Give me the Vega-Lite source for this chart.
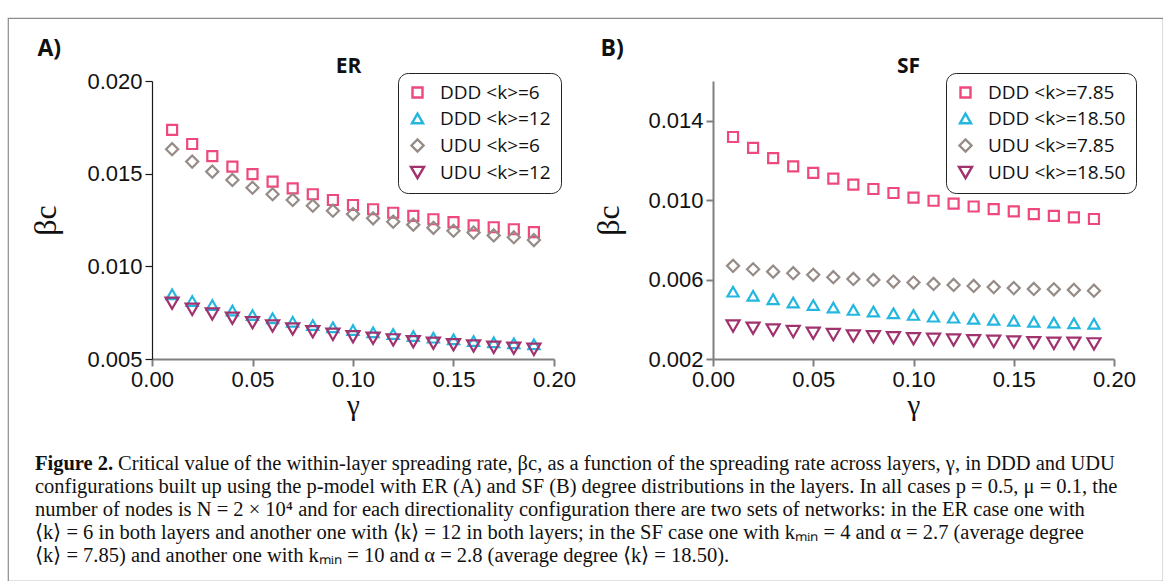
{
  "$schema": "https://vega.github.io/schema/vega-lite/v6.json",
  "width": 1155,
  "height": 563,
  "autosize": {"type": "none"},
  "padding": {"left": 8, "top": 18, "right": 0, "bottom": 0},
  "background": "white",
  "config": {
    "view": {"stroke": "#8c8c8c", "strokeWidth": 1.2},
    "axis": {"grid": false, "labelFont": "Liberation Sans", "labelFontSize": 22, "labelColor": "#111", "titleFont": "Liberation Serif", "titleFontSize": 30, "titleFontWeight": "normal", "titleColor": "#111", "tickSize": 7, "domainColor": "#808080", "tickColor": "#808080", "domainWidth": 2, "tickWidth": 2, "labelPadding": 3, "labelFlush": false, "labelOverlap": false},
    "legend": {"title": null, "orient": "none", "strokeColor": "#222", "cornerRadius": 10, "padding": 10, "fillColor": "white", "labelFont": "Open Sans", "labelFontSize": 19, "labelColor": "#111", "symbolStrokeWidth": 2.4, "symbolSize": 120, "rowPadding": 5, "labelOffset": 13}
  },
  "datasets": {
    "er": [
      {"g":0.01,"b":0.01736,"s":"DDD <k>=6"},{"g":0.02,"b":0.0166,"s":"DDD <k>=6"},{"g":0.03,"b":0.01595,"s":"DDD <k>=6"},{"g":0.04,"b":0.01538,"s":"DDD <k>=6"},{"g":0.05,"b":0.01497,"s":"DDD <k>=6"},{"g":0.06,"b":0.01457,"s":"DDD <k>=6"},{"g":0.07,"b":0.01421,"s":"DDD <k>=6"},{"g":0.08,"b":0.01389,"s":"DDD <k>=6"},{"g":0.09,"b":0.01358,"s":"DDD <k>=6"},{"g":0.10,"b":0.01331,"s":"DDD <k>=6"},{"g":0.11,"b":0.01308,"s":"DDD <k>=6"},{"g":0.12,"b":0.01289,"s":"DDD <k>=6"},{"g":0.13,"b":0.01272,"s":"DDD <k>=6"},{"g":0.14,"b":0.01254,"s":"DDD <k>=6"},{"g":0.15,"b":0.01238,"s":"DDD <k>=6"},{"g":0.16,"b":0.01221,"s":"DDD <k>=6"},{"g":0.17,"b":0.01211,"s":"DDD <k>=6"},{"g":0.18,"b":0.01200,"s":"DDD <k>=6"},{"g":0.19,"b":0.01185,"s":"DDD <k>=6"},
      {"g":0.01,"b":0.00849,"s":"DDD <k>=12"},{"g":0.02,"b":0.00813,"s":"DDD <k>=12"},{"g":0.03,"b":0.00791,"s":"DDD <k>=12"},{"g":0.04,"b":0.00761,"s":"DDD <k>=12"},{"g":0.05,"b":0.00737,"s":"DDD <k>=12"},{"g":0.06,"b":0.00720,"s":"DDD <k>=12"},{"g":0.07,"b":0.00701,"s":"DDD <k>=12"},{"g":0.08,"b":0.00683,"s":"DDD <k>=12"},{"g":0.09,"b":0.00671,"s":"DDD <k>=12"},{"g":0.10,"b":0.00656,"s":"DDD <k>=12"},{"g":0.11,"b":0.00644,"s":"DDD <k>=12"},{"g":0.12,"b":0.00635,"s":"DDD <k>=12"},{"g":0.13,"b":0.00624,"s":"DDD <k>=12"},{"g":0.14,"b":0.00615,"s":"DDD <k>=12"},{"g":0.15,"b":0.00606,"s":"DDD <k>=12"},{"g":0.16,"b":0.00597,"s":"DDD <k>=12"},{"g":0.17,"b":0.00590,"s":"DDD <k>=12"},{"g":0.18,"b":0.00585,"s":"DDD <k>=12"},{"g":0.19,"b":0.00579,"s":"DDD <k>=12"},
      {"g":0.01,"b":0.01632,"s":"UDU <k>=6"},{"g":0.02,"b":0.01565,"s":"UDU <k>=6"},{"g":0.03,"b":0.01511,"s":"UDU <k>=6"},{"g":0.04,"b":0.01466,"s":"UDU <k>=6"},{"g":0.05,"b":0.01424,"s":"UDU <k>=6"},{"g":0.06,"b":0.01389,"s":"UDU <k>=6"},{"g":0.07,"b":0.01358,"s":"UDU <k>=6"},{"g":0.08,"b":0.01327,"s":"UDU <k>=6"},{"g":0.09,"b":0.01300,"s":"UDU <k>=6"},{"g":0.10,"b":0.01282,"s":"UDU <k>=6"},{"g":0.11,"b":0.01259,"s":"UDU <k>=6"},{"g":0.12,"b":0.01241,"s":"UDU <k>=6"},{"g":0.13,"b":0.01225,"s":"UDU <k>=6"},{"g":0.14,"b":0.01208,"s":"UDU <k>=6"},{"g":0.15,"b":0.01192,"s":"UDU <k>=6"},{"g":0.16,"b":0.01182,"s":"UDU <k>=6"},{"g":0.17,"b":0.01167,"s":"UDU <k>=6"},{"g":0.18,"b":0.01157,"s":"UDU <k>=6"},{"g":0.19,"b":0.01142,"s":"UDU <k>=6"},
      {"g":0.01,"b":0.00801,"s":"UDU <k>=12"},{"g":0.02,"b":0.00768,"s":"UDU <k>=12"},{"g":0.03,"b":0.00743,"s":"UDU <k>=12"},{"g":0.04,"b":0.00720,"s":"UDU <k>=12"},{"g":0.05,"b":0.00696,"s":"UDU <k>=12"},{"g":0.06,"b":0.00678,"s":"UDU <k>=12"},{"g":0.07,"b":0.00662,"s":"UDU <k>=12"},{"g":0.08,"b":0.00647,"s":"UDU <k>=12"},{"g":0.09,"b":0.00633,"s":"UDU <k>=12"},{"g":0.10,"b":0.00620,"s":"UDU <k>=12"},{"g":0.11,"b":0.00612,"s":"UDU <k>=12"},{"g":0.12,"b":0.00603,"s":"UDU <k>=12"},{"g":0.13,"b":0.00593,"s":"UDU <k>=12"},{"g":0.14,"b":0.00585,"s":"UDU <k>=12"},{"g":0.15,"b":0.00577,"s":"UDU <k>=12"},{"g":0.16,"b":0.00570,"s":"UDU <k>=12"},{"g":0.17,"b":0.00563,"s":"UDU <k>=12"},{"g":0.18,"b":0.00558,"s":"UDU <k>=12"},{"g":0.19,"b":0.00552,"s":"UDU <k>=12"}
    ],
    "sf": [
      {"g":0.01,"b":0.01318,"s":"DDD <k>=7.85"},{"g":0.02,"b":0.01263,"s":"DDD <k>=7.85"},{"g":0.03,"b":0.01212,"s":"DDD <k>=7.85"},{"g":0.04,"b":0.01170,"s":"DDD <k>=7.85"},{"g":0.05,"b":0.01137,"s":"DDD <k>=7.85"},{"g":0.06,"b":0.01108,"s":"DDD <k>=7.85"},{"g":0.07,"b":0.01078,"s":"DDD <k>=7.85"},{"g":0.08,"b":0.01056,"s":"DDD <k>=7.85"},{"g":0.09,"b":0.01036,"s":"DDD <k>=7.85"},{"g":0.10,"b":0.01013,"s":"DDD <k>=7.85"},{"g":0.11,"b":0.00997,"s":"DDD <k>=7.85"},{"g":0.12,"b":0.00982,"s":"DDD <k>=7.85"},{"g":0.13,"b":0.00968,"s":"DDD <k>=7.85"},{"g":0.14,"b":0.00955,"s":"DDD <k>=7.85"},{"g":0.15,"b":0.00943,"s":"DDD <k>=7.85"},{"g":0.16,"b":0.00930,"s":"DDD <k>=7.85"},{"g":0.17,"b":0.00921,"s":"DDD <k>=7.85"},{"g":0.18,"b":0.00913,"s":"DDD <k>=7.85"},{"g":0.19,"b":0.00905,"s":"DDD <k>=7.85"},
      {"g":0.01,"b":0.00539,"s":"DDD <k>=18.50"},{"g":0.02,"b":0.00518,"s":"DDD <k>=18.50"},{"g":0.03,"b":0.00501,"s":"DDD <k>=18.50"},{"g":0.04,"b":0.00484,"s":"DDD <k>=18.50"},{"g":0.05,"b":0.00472,"s":"DDD <k>=18.50"},{"g":0.06,"b":0.00459,"s":"DDD <k>=18.50"},{"g":0.07,"b":0.00447,"s":"DDD <k>=18.50"},{"g":0.08,"b":0.00439,"s":"DDD <k>=18.50"},{"g":0.09,"b":0.00430,"s":"DDD <k>=18.50"},{"g":0.10,"b":0.00422,"s":"DDD <k>=18.50"},{"g":0.11,"b":0.00413,"s":"DDD <k>=18.50"},{"g":0.12,"b":0.00408,"s":"DDD <k>=18.50"},{"g":0.13,"b":0.00402,"s":"DDD <k>=18.50"},{"g":0.14,"b":0.00397,"s":"DDD <k>=18.50"},{"g":0.15,"b":0.00392,"s":"DDD <k>=18.50"},{"g":0.16,"b":0.00387,"s":"DDD <k>=18.50"},{"g":0.17,"b":0.00383,"s":"DDD <k>=18.50"},{"g":0.18,"b":0.00380,"s":"DDD <k>=18.50"},{"g":0.19,"b":0.00377,"s":"DDD <k>=18.50"},
      {"g":0.01,"b":0.00669,"s":"UDU <k>=7.85"},{"g":0.02,"b":0.00652,"s":"UDU <k>=7.85"},{"g":0.03,"b":0.00640,"s":"UDU <k>=7.85"},{"g":0.04,"b":0.00632,"s":"UDU <k>=7.85"},{"g":0.05,"b":0.00624,"s":"UDU <k>=7.85"},{"g":0.06,"b":0.00612,"s":"UDU <k>=7.85"},{"g":0.07,"b":0.00603,"s":"UDU <k>=7.85"},{"g":0.08,"b":0.00598,"s":"UDU <k>=7.85"},{"g":0.09,"b":0.00590,"s":"UDU <k>=7.85"},{"g":0.10,"b":0.00585,"s":"UDU <k>=7.85"},{"g":0.11,"b":0.00578,"s":"UDU <k>=7.85"},{"g":0.12,"b":0.00573,"s":"UDU <k>=7.85"},{"g":0.13,"b":0.00568,"s":"UDU <k>=7.85"},{"g":0.14,"b":0.00562,"s":"UDU <k>=7.85"},{"g":0.15,"b":0.00557,"s":"UDU <k>=7.85"},{"g":0.16,"b":0.00553,"s":"UDU <k>=7.85"},{"g":0.17,"b":0.00551,"s":"UDU <k>=7.85"},{"g":0.18,"b":0.00548,"s":"UDU <k>=7.85"},{"g":0.19,"b":0.00544,"s":"UDU <k>=7.85"},
      {"g":0.01,"b":0.00366,"s":"UDU <k>=18.50"},{"g":0.02,"b":0.00355,"s":"UDU <k>=18.50"},{"g":0.03,"b":0.00346,"s":"UDU <k>=18.50"},{"g":0.04,"b":0.00338,"s":"UDU <k>=18.50"},{"g":0.05,"b":0.00330,"s":"UDU <k>=18.50"},{"g":0.06,"b":0.00323,"s":"UDU <k>=18.50"},{"g":0.07,"b":0.00316,"s":"UDU <k>=18.50"},{"g":0.08,"b":0.00312,"s":"UDU <k>=18.50"},{"g":0.09,"b":0.00307,"s":"UDU <k>=18.50"},{"g":0.10,"b":0.00302,"s":"UDU <k>=18.50"},{"g":0.11,"b":0.00299,"s":"UDU <k>=18.50"},{"g":0.12,"b":0.00296,"s":"UDU <k>=18.50"},{"g":0.13,"b":0.00292,"s":"UDU <k>=18.50"},{"g":0.14,"b":0.00289,"s":"UDU <k>=18.50"},{"g":0.15,"b":0.00286,"s":"UDU <k>=18.50"},{"g":0.16,"b":0.00282,"s":"UDU <k>=18.50"},{"g":0.17,"b":0.00279,"s":"UDU <k>=18.50"},{"g":0.18,"b":0.00279,"s":"UDU <k>=18.50"},{"g":0.19,"b":0.00276,"s":"UDU <k>=18.50"}
    ],
    "caption": [
      {"line": 2, "t": "configurations built up using the p-model with ER (A) and SF (B) degree distributions in the layers. In all cases p = 0.5, μ = 0.1, the"},
      {"line": 3, "t": "number of nodes is N = 2 × 10⁴ and for each directionality configuration there are two sets of networks: in the ER case one with"},
      {"line": 4, "t": "⟨k⟩ = 6 in both layers and another one with ⟨k⟩ = 12 in both layers; in the SF case one with kₘᵢₙ = 4 and α = 2.7 (average degree"},
      {"line": 5, "t": "⟨k⟩ = 7.85) and another one with kₘᵢₙ = 10 and α = 2.8 (average degree ⟨k⟩ = 18.50)."}
    ]
  },
  "layer": [
    {
      "data": {"name": "er"},
      "mark": {"type": "point", "filled": false, "strokeWidth": 2.2, "opacity": 1},
      "encoding": {
        "x": {"field": "g", "type": "quantitative", "scale": {"domain": [0, 0.2], "range": [144, 546], "nice": false, "zero": false},
              "axis": {"orient": "bottom", "offset": -222, "values": [0, 0.05, 0.1, 0.15, 0.2], "format": ".2f", "title": "γ", "titlePadding": 1, "titleFontSize": 29}},
        "y": {"field": "b", "type": "quantitative", "scale": {"domain": [0.005, 0.02], "range": [341, 63], "nice": false, "zero": false},
              "axis": {"orient": "left", "offset": -144, "values": [0.005, 0.01, 0.015, 0.02], "format": ".3f", "title": "βc", "titleFontSize": 32, "titlePadding": 24, "domainColor": "#1a1a1a", "tickColor": "#1a1a1a", "domainWidth": 1.2, "tickWidth": 1.2}},
        "color": {"field": "s", "type": "nominal", "scale": {"domain": ["DDD <k>=6", "DDD <k>=12", "UDU <k>=6", "UDU <k>=12"], "range": ["#ee487c", "#23b7e0", "#968c87", "#a0326e"]}, "legend": {"legendX": 390, "legendY": 55}},
        "shape": {"field": "s", "type": "nominal", "scale": {"domain": ["DDD <k>=6", "DDD <k>=12", "UDU <k>=6", "UDU <k>=12"], "range": ["square", "triangle-up", "diamond", "triangle-down"]}, "legend": {"legendX": 390, "legendY": 55}},
        "size": {"field": "s", "type": "ordinal", "scale": {"domain": ["DDD <k>=6", "DDD <k>=12", "UDU <k>=6", "UDU <k>=12"], "range": [100, 170, 120, 170]}, "legend": null}
      }
    },
    {
      "data": {"name": "sf"},
      "mark": {"type": "point", "filled": false, "strokeWidth": 2.2, "opacity": 1},
      "encoding": {
        "x": {"field": "g", "type": "quantitative", "scale": {"domain": [0, 0.2], "range": [705, 1106], "nice": false, "zero": false},
              "axis": {"orient": "bottom", "offset": -222, "values": [0, 0.05, 0.1, 0.15, 0.2], "format": ".2f", "title": "γ", "titlePadding": 1, "titleFontSize": 29}},
        "y": {"field": "b", "type": "quantitative", "scale": {"domain": [0.002, 0.016], "range": [341, 63], "nice": false, "zero": false},
              "axis": {"orient": "left", "offset": -705, "values": [0.002, 0.006, 0.01, 0.014], "format": ".3f", "title": "βc", "titleFontSize": 32, "titlePadding": 22}},
        "color": {"field": "s", "type": "nominal", "scale": {"domain": ["DDD <k>=7.85", "DDD <k>=18.50", "UDU <k>=7.85", "UDU <k>=18.50"], "range": ["#ee487c", "#23b7e0", "#968c87", "#a0326e"]}, "legend": {"legendX": 938, "legendY": 55}},
        "shape": {"field": "s", "type": "nominal", "scale": {"domain": ["DDD <k>=7.85", "DDD <k>=18.50", "UDU <k>=7.85", "UDU <k>=18.50"], "range": ["square", "triangle-up", "diamond", "triangle-down"]}, "legend": {"legendX": 938, "legendY": 55}},
        "size": {"field": "s", "type": "ordinal", "scale": {"domain": ["DDD <k>=7.85", "DDD <k>=18.50", "UDU <k>=7.85", "UDU <k>=18.50"], "range": [100, 170, 120, 170]}, "legend": null}
      }
    },
    {
      "data": {"values": [{"u": 0}]},
      "mark": {"type": "point", "opacity": 0},
      "encoding": {
        "x": {"field": "u", "type": "quantitative", "scale": {"domain": [0, 1], "range": [144, 546]},
              "axis": {"orient": "top", "offset": -63, "labels": false, "ticks": false, "domain": false, "title": "ER", "titleFont": "Open Sans", "titleFontWeight": "bold", "titleFontSize": 21, "titleX": 340, "titleY": -9, "titleAlign": "center", "titleBaseline": "alphabetic"}},
        "y": {"field": "u", "type": "quantitative", "scale": {"domain": [0, 1], "range": [341, 63]},
              "axis": {"orient": "left", "offset": -144, "labels": false, "ticks": false, "domain": false, "title": "A)", "titleAngle": 0, "titleAlign": "left", "titleBaseline": "alphabetic", "titleX": -115, "titleY": 37, "titleFont": "Open Sans", "titleFontWeight": "bold", "titleFontSize": 23}}
      }
    },
    {
      "data": {"values": [{"u": 0}]},
      "mark": {"type": "point", "opacity": 0},
      "encoding": {
        "x": {"field": "u", "type": "quantitative", "scale": {"domain": [0, 1], "range": [705, 1106]},
              "axis": {"orient": "top", "offset": -63, "labels": false, "ticks": false, "domain": false, "title": "SF", "titleFont": "Open Sans", "titleFontWeight": "bold", "titleFontSize": 21, "titleX": 900, "titleY": -9, "titleAlign": "center", "titleBaseline": "alphabetic"}},
        "y": {"field": "u", "type": "quantitative", "scale": {"domain": [0, 1], "range": [341, 63]},
              "axis": {"orient": "left", "offset": -705, "labels": false, "ticks": false, "domain": false, "title": "B)", "titleAngle": 0, "titleAlign": "left", "titleBaseline": "alphabetic", "titleX": -113, "titleY": 37, "titleFont": "Open Sans", "titleFontWeight": "bold", "titleFontSize": 23}}
      }
    },
    {
      "data": {"values": [{"line": 1, "t": "Figure 2."}]},
      "mark": {"type": "text", "align": "left", "baseline": "alphabetic", "font": "Liberation Serif", "fontSize": 20.5, "fontWeight": "bold", "color": "#111"},
      "encoding": {
        "x": {"value": 27},
        "y": {"field": "line", "type": "quantitative", "scale": {"domain": [1, 5], "range": [452, 543.7]}, "axis": null},
        "text": {"field": "t"}
      }
    },
    {
      "data": {"values": [{"line": 1, "t": "Critical value of the within-layer spreading rate, βc, as a function of the spreading rate across layers, γ, in DDD and UDU"}]},
      "mark": {"type": "text", "align": "left", "baseline": "alphabetic", "font": "Liberation Serif", "fontSize": 20.5, "color": "#111"},
      "encoding": {
        "x": {"value": 110},
        "y": {"field": "line", "type": "quantitative", "scale": {"domain": [1, 5], "range": [452, 543.7]}, "axis": null},
        "text": {"field": "t"}
      }
    },
    {
      "data": {"name": "caption"},
      "mark": {"type": "text", "align": "left", "baseline": "alphabetic", "font": "Liberation Serif", "fontSize": 20.5, "color": "#111"},
      "encoding": {
        "x": {"value": 27},
        "y": {"field": "line", "type": "quantitative", "scale": {"domain": [1, 5], "range": [452, 543.7]}, "axis": null},
        "text": {"field": "t"}
      }
    }
  ],
  "resolve": {
    "scale": {"x": "independent", "y": "independent", "color": "independent", "shape": "independent", "size": "independent"},
    "axis": {"x": "independent", "y": "independent"},
    "legend": {"color": "independent", "shape": "independent", "size": "independent"}
  }
}
